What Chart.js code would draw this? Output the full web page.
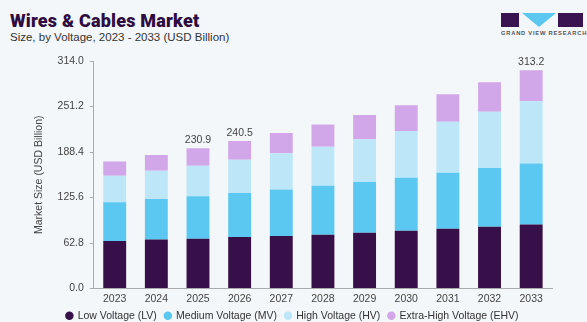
<!DOCTYPE html>
<html>
<head>
<meta charset="utf-8">
<script src="https://cdn.jsdelivr.net/npm/chart.js@4.4.1/dist/chart.umd.min.js"></script>
<style>
  html, body { margin: 0; padding: 0; }
  body { width: 587px; height: 322px; background: #f3f7fa; position: relative; overflow: hidden; font-family: "Liberation Sans", Arial, sans-serif; }
  #title { position: absolute; left: 10px; top: 10px; font-family: "Roboto", "Liberation Sans", sans-serif; font-weight: 900; font-size: 18px; color: #2e0c40; letter-spacing: 0.2px; }
  #subtitle { position: absolute; left: 10px; top: 31px; font-size: 11.5px; color: #333; }
  #logo { position: absolute; left: 501px; top: 13px; width: 84px; height: 24px; }
  .lr { position: absolute; top: 0; height: 14px; background: #3a1450; }
  #tri { position: absolute; left: 21px; top: 0; width: 0; height: 0; border-left: 17px solid transparent; border-right: 17px solid transparent; border-top: 14px solid #5cc7f0; }
  #logotext { position: absolute; left: 0; top: 17px; font-size: 5.8px; font-weight: bold; color: #555; letter-spacing: 0.75px; white-space: nowrap; }
  #wrap { position: absolute; left: 0; top: 0; width: 587px; height: 322px; }
</style>
</head>
<body>
<div id="title">Wires &amp; Cables Market</div>
<div id="subtitle">Size, by Voltage, 2023 - 2033 (USD Billion)</div>
<div id="logo">
  <div class="lr" style="left:0;width:18px;"></div>
  <div id="tri"></div>
  <div class="lr" style="left:57px;width:25px;"></div>
  <div id="logotext">GRAND VIEW RESEARCH</div>
</div>
<div id="wrap"><canvas id="chart"></canvas></div>
<script>
const years = ["2023", "2024", "2025", "2026", "2027", "2028", "2029", "2030", "2031", "2032", "2033"];
const lowVoltage = [65.5, 67.5, 68.8, 71.0, 72.4, 74.3, 77.1, 79.8, 82.5, 85.3, 88.4];
const mediumVoltage = [53.5, 56.2, 58.4, 60.9, 64.4, 67.6, 69.9, 73.1, 77.2, 80.9, 84.0];
const highVoltage = [36.6, 38.8, 42.1, 45.7, 49.9, 53.9, 59.0, 64.4, 70.3, 77.6, 86.0];
const extraHighVoltage = [19.6, 21.9, 24.3, 26.0, 27.8, 30.7, 33.3, 35.6, 38.0, 40.7, 42.9];
const totalLabels = ["", "", "230.9", "240.5", "", "", "", "", "", "", "313.2"];
const yTicks = [0, 62.8, 125.6, 188.4, 251.2, 314.0];

const FONT = "'Liberation Sans', Arial, sans-serif";

// writes the reported totals above some of the bars
const totalsPlugin = {
  id: "totals",
  afterDatasetsDraw(chart) {
    const ctx = chart.ctx;
    const top = chart.getDatasetMeta(chart.data.datasets.length - 1);
    ctx.save();
    ctx.font = "10.5px " + FONT;
    ctx.fillStyle = "#444";
    ctx.textAlign = "center";
    ctx.textBaseline = "bottom";
    totalLabels.forEach((t, i) => {
      if (!t) return;
      const bar = top.data[i];
      ctx.fillText(t, bar.x, bar.y - 3);
    });
    ctx.restore();
  }
};

const data = {
  labels: years,
  datasets: [
    { label: "Low Voltage (LV)", data: lowVoltage, backgroundColor: "#381049" },
    { label: "Medium Voltage (MV)", data: mediumVoltage, backgroundColor: "#5bc8f2" },
    { label: "High Voltage (HV)", data: highVoltage, backgroundColor: "#bde7f8" },
    { label: "Extra-High Voltage (EHV)", data: extraHighVoltage, backgroundColor: "#d1a7e9" },
  ],
};

const config = {
  type: "bar",
  data: data,
  options: {
    responsive: true,
    maintainAspectRatio: false,
    animation: false,
    datasets: {
      bar: { categoryPercentage: 0.55, barPercentage: 1.0 },
    },
    layout: {
      padding: { top: 61, left: 33, right: 35, bottom: -9 },
    },
    plugins: {
      tooltip: { enabled: false },
      legend: {
        position: "bottom",
        labels: {
          usePointStyle: true,
          pointStyle: "circle",
          boxWidth: 6,
          boxHeight: 6,
          padding: 8,
          color: "#333",
          font: { size: 10.5, family: FONT },
        },
      },
    },
    scales: {
      x: {
        stacked: true,
        afterFit: (scale) => {
          scale.height = 14;
        },
        grid: { display: true, drawOnChartArea: false, drawTicks: false },
        border: { display: true, color: "#aaa" },
        ticks: { color: "#444", padding: 4, font: { size: 10.5, family: FONT } },
      },
      y: {
        stacked: true,
        min: 0,
        max: 314,
        afterBuildTicks: (scale) => {
          scale.ticks = yTicks.map((v) => ({ value: v }));
        },
        ticks: {
          color: "#444",
          padding: 6,
          font: { size: 10.5, family: FONT },
          callback: (v) => Number(v).toFixed(1),
        },
        grid: { display: true, drawOnChartArea: false, tickLength: 4, color: "#aaa" },
        border: { display: true, color: "#aaa" },
        title: {
          display: true,
          text: "Market Size (USD Billion)",
          color: "#444",
          padding: { top: 0, bottom: 6 },
          font: { size: 10.5, family: FONT },
        },
      },
    },
  },
  plugins: [totalsPlugin],
};

new Chart(document.getElementById("chart"), config);
</script>
</body>
</html>
